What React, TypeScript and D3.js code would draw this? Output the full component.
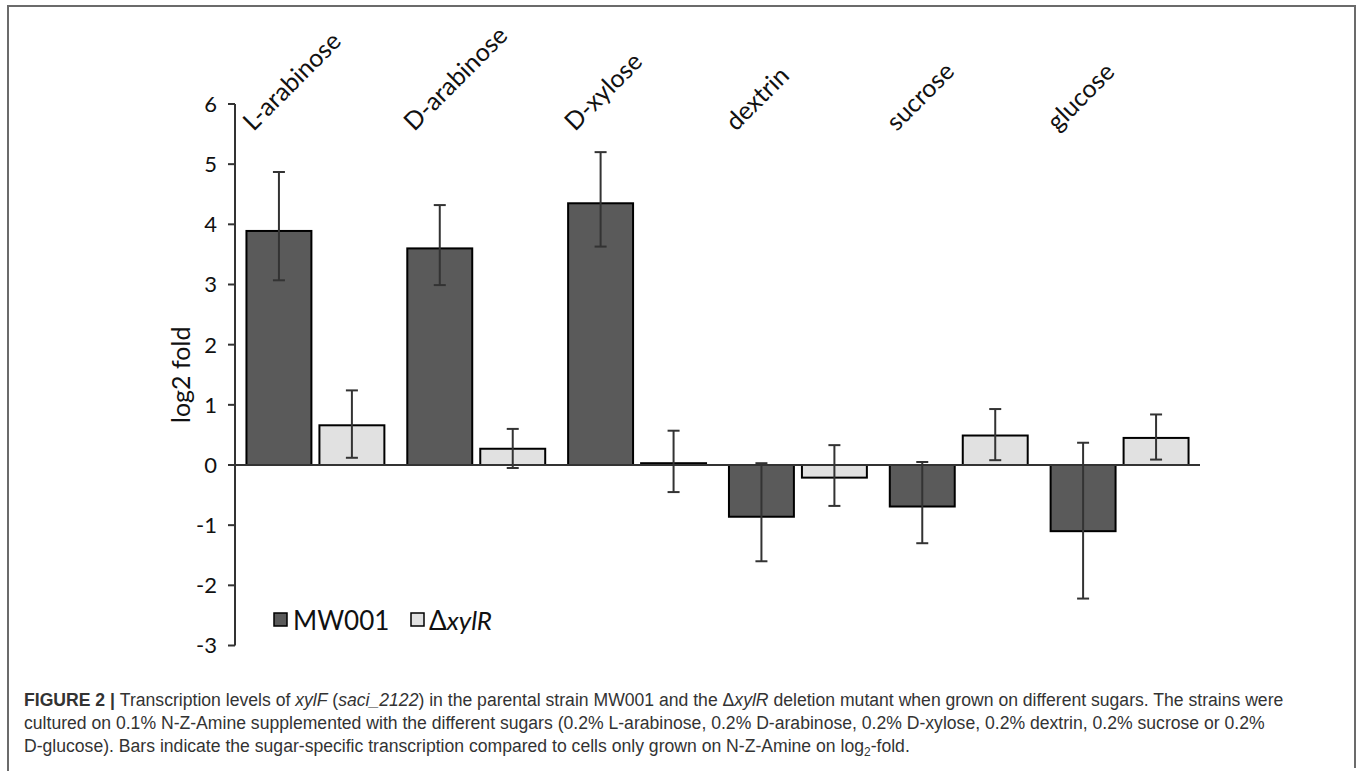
import * as d3 from 'd3'
import { useEffect } from 'react'

// sugars on the x axis
const categories = ['L-arabinose', 'D-arabinose', 'D-xylose', 'dextrin', 'sucrose', 'glucose']
const seriesKeys = ['MW001', 'dxylR']

// log2 fold
const mw001 = [3.89, 3.6, 4.35, -0.86, -0.69, -1.1]
const mw001Low = [3.07, 2.99, 3.63, -1.6, -1.3, -2.22]
const mw001High = [4.87, 4.32, 5.2, 0.03, 0.05, 0.37]

const dxylR = [0.66, 0.27, 0.03, -0.21, 0.49, 0.45]
const dxylRLow = [0.12, -0.05, -0.45, -0.68, 0.08, 0.09]
const dxylRHigh = [1.24, 0.6, 0.57, 0.33, 0.93, 0.84]

const yTicks = [-3, -2, -1, 0, 1, 2, 3, 4, 5, 6]

const W = 1357
const H = 771
const font = 'Lato, "Open Sans", sans-serif'
const capFont = '"Liberation Sans Narrow", "Liberation Sans", Arial, sans-serif'

export default function App() {
  useEffect(() => {
    document.body.style.margin = '0'
  }, [])

  const x = d3.scaleBand<string>().domain(categories).range([235, 1200])
  const xs = d3
    .scaleBand<string>()
    .domain(seriesKeys)
    .range([0, x.bandwidth()])
    .paddingInner(0.11)
    .paddingOuter(0.157)
  const y = d3.scaleLinear().domain([-3, 6]).range([645.5, 104])

  const series = [
    { key: 'MW001', vals: mw001, lo: mw001Low, hi: mw001High, fill: '#5a5a5a' },
    { key: 'dxylR', vals: dxylR, lo: dxylRLow, hi: dxylRHigh, fill: '#e1e1e1' },
  ]

  return (
    <svg width={W} height={H} style={{ display: 'block', background: '#fff' }}>
      {/* frame */}
      <path d={`M8,${H} V6 H1355 V768`} fill="none" stroke="#6b6b6b" strokeWidth={2} />

      {/* y axis */}
      <line x1={x.range()[0]} x2={x.range()[0]} y1={y(6)} y2={y(-3)} stroke="#333" strokeWidth={2} />
      {yTicks.map(t => (
        <g key={t}>
          <line x1={228} x2={235} y1={y(t)} y2={y(t)} stroke="#333" strokeWidth={2} />
          <text x={217} y={y(t)} dy="0.36em" textAnchor="end" fontFamily={font} fontSize={22} fill="#111">
            {t}
          </text>
        </g>
      ))}
      <text
        transform={`translate(190,${y(1.5)}) rotate(-90)`}
        textAnchor="middle"
        fontFamily={font}
        fontSize={25}
        fill="#111"
      >
        log2 fold
      </text>

      {/* bars */}
      {series.map(s =>
        categories.map((c, i) => {
          const bx = (x(c) ?? 0) + (xs(s.key) ?? 0)
          const v = s.vals[i]
          return (
            <rect
              key={s.key + c}
              x={bx}
              y={y(Math.max(0, v))}
              width={xs.bandwidth()}
              height={Math.abs(y(v) - y(0))}
              fill={s.fill}
              stroke="#000"
              strokeWidth={2}
            />
          )
        })
      )}

      {/* zero line */}
      <line x1={x.range()[0]} x2={x.range()[1]} y1={y(0)} y2={y(0)} stroke="#333" strokeWidth={2} />

      {/* error bars */}
      {series.map(s =>
        categories.map((c, i) => {
          const cx = (x(c) ?? 0) + (xs(s.key) ?? 0) + xs.bandwidth() / 2
          return (
            <g key={'e' + s.key + c} stroke="#333" strokeWidth={2}>
              <line x1={cx} x2={cx} y1={y(s.lo[i])} y2={y(s.hi[i])} />
              <line x1={cx - 6} x2={cx + 6} y1={y(s.lo[i])} y2={y(s.lo[i])} />
              <line x1={cx - 6} x2={cx + 6} y1={y(s.hi[i])} y2={y(s.hi[i])} />
            </g>
          )
        })
      )}

      {/* category labels */}
      {categories.map(c => (
        <text
          key={c}
          transform={`translate(${(x(c) ?? 0) + x.bandwidth() / 2 - 62},132) rotate(-45)`}
          fontFamily={font}
          fontSize={25}
          fill="#111"
        >
          {c}
        </text>
      ))}

      {/* legend */}
      <rect x={274} y={613} width={13} height={13} fill="#5a5a5a" stroke="#000" strokeWidth={1.5} />
      <text x={293} y={630} fontFamily={font} fontSize={26} fill="#111">
        MW001
      </text>
      <rect x={411} y={613} width={13} height={13} fill="#e1e1e1" stroke="#000" strokeWidth={1.5} />
      <text x={429} y={630} fontFamily={font} fontSize={26} fill="#111">
        Δ<tspan fontStyle="italic">xylR</tspan>
      </text>

      {/* caption */}
      <g fontFamily={capFont} fontSize={17.6} fill="#333">
        <text x={24} y={706}>
          <tspan fontWeight="bold">FIGURE 2 | </tspan>
          Transcription levels of <tspan fontStyle="italic">xylF</tspan> (
          <tspan fontStyle="italic">saci_2122</tspan>) in the parental strain MW001 and the Δ
          <tspan fontStyle="italic">xylR</tspan> deletion mutant when grown on different sugars. The strains were
        </text>
        <text x={24} y={729}>
          cultured on 0.1% N-Z-Amine supplemented with the different sugars (0.2% L-arabinose, 0.2% D-arabinose, 0.2%
          D-xylose, 0.2% dextrin, 0.2% sucrose or 0.2%
        </text>
        <text x={24} y={752}>
          D-glucose). Bars indicate the sugar-specific transcription compared to cells only grown on N-Z-Amine on log
          <tspan fontSize={12} dy={4}>2</tspan>
          <tspan dy={-4}>-fold.</tspan>
        </text>
      </g>
    </svg>
  )
}
